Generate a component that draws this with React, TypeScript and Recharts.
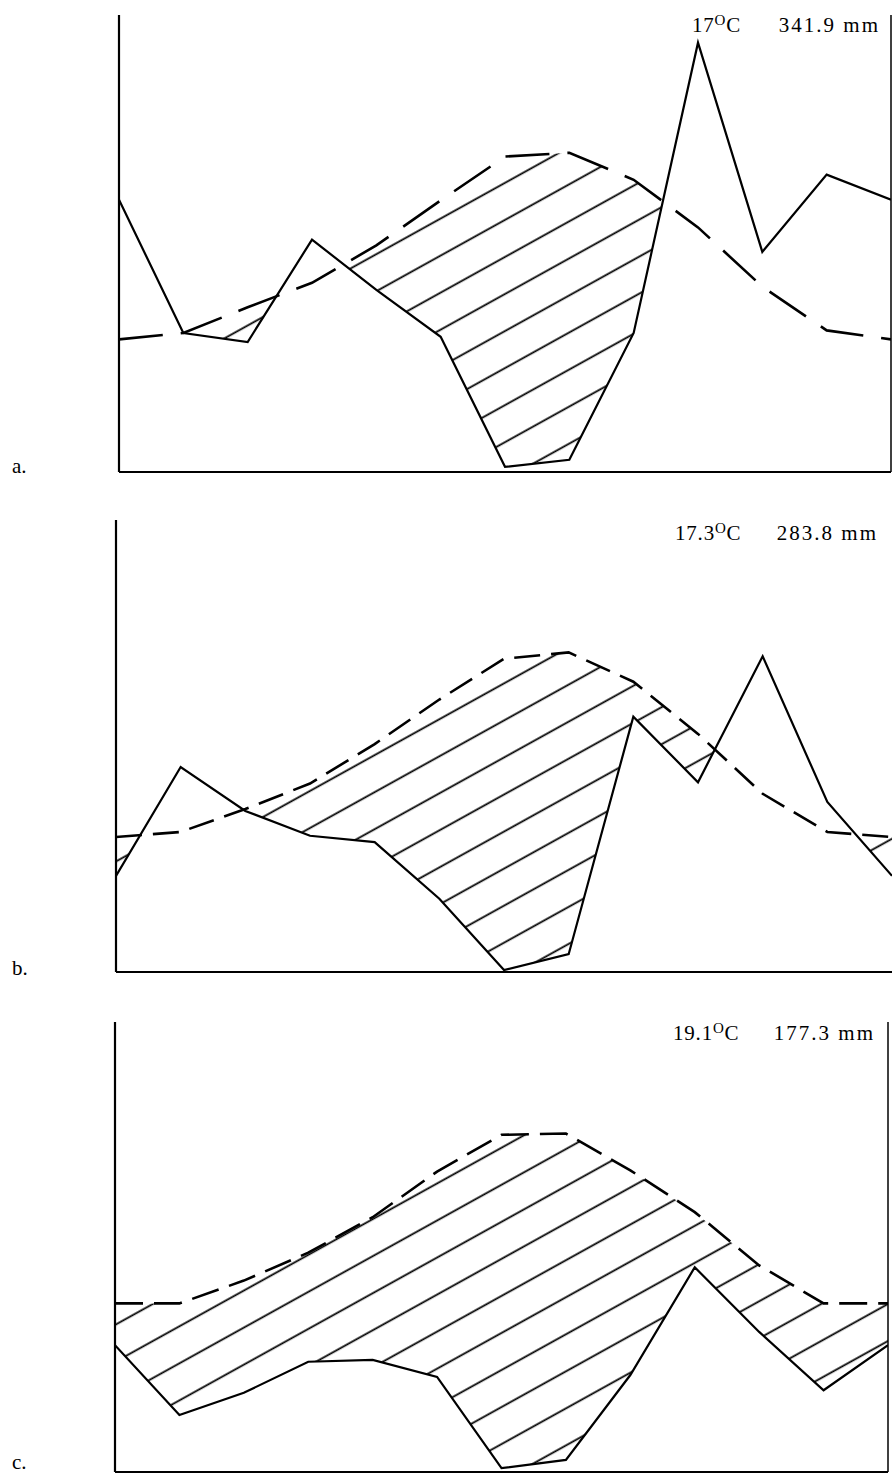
import React from "react";
import { Area, ComposedChart, Line, ReferenceLine, XAxis, YAxis } from "recharts";

const MONTHS = ["J", "F", "M", "A", "M", "J", "J", "A", "S", "O", "N", "D", "J"];

// temperature in °C, precipitation in mm (10 °C = 20 mm), last month repeats the first
const TEMP_A = [10.3, 10.8, 12.8, 14.7, 17.6, 21.1, 24.5, 24.8, 22.7, 19.0, 14.4, 11.0, 10.3];
const PREC_A = [42.3, 21.6, 20.2, 36.1, 28.3, 21.0, 0.8, 1.9, 21.6, 66.7, 34.2, 46.2, 42.3];

const TEMP_B = [10.6, 11.0, 12.8, 14.8, 17.9, 21.4, 24.6, 25.1, 22.8, 18.7, 14.0, 11.0, 10.6];
const PREC_B = [15.1, 32.2, 25.3, 21.4, 20.4, 11.5, 0.3, 2.8, 40.1, 29.8, 49.6, 26.7, 15.1];

const TEMP_C = [13.3, 13.3, 15.1, 17.3, 20.1, 23.7, 26.6, 26.7, 23.8, 20.5, 16.3, 13.3, 13.3];
const PREC_C = [20.0, 9.0, 12.5, 17.4, 17.7, 15.0, 0.6, 1.9, 15.3, 32.3, 22.1, 12.9, 20.0];

const T_MAX = 35.5;
const INK = "#000";
const SERIF = "'Liberation Serif', 'DejaVu Serif', serif";

function rows(temp: number[], prec: number[]) {
  return MONTHS.map((m, i) => ({ x: i, month: m, t: temp[i], p: prec[i] }));
}

// dry season band: between precipitation (in °C units) and temperature where temp is higher
function dryBand(temp: number[], prec: number[]) {
  const out: { x: number; band: [number, number] }[] = [];
  for (let i = 0; i < temp.length; i++) {
    const half = prec[i] / 2;
    out.push({ x: i, band: [Math.min(temp[i], half), temp[i]] });
    if (i < temp.length - 1) {
      const d1 = temp[i] - half;
      const d2 = temp[i + 1] - prec[i + 1] / 2;
      if (d1 * d2 < 0) {
        const f = d1 / (d1 - d2);
        const tv = temp[i] + f * (temp[i + 1] - temp[i]);
        out.push({ x: i + f, band: [tv, tv] });
      }
    }
  }
  return out;
}

interface PanelProps {
  id: string;
  temp: number[];
  prec: number[];
  top: number;
  height: number;
  margin: { top: number; right: number; bottom: number; left: number };
  dash: string;
  rightAxis: boolean;
  letter: string;
  letterY: number;
  tempLabel: string;
  precLabel: string;
  labelX: number;
  labelRight: number;
  labelY: number;
}

function Panel(p: PanelProps) {
  return (
    <div style={{ position: "absolute", left: 0, top: p.top, width: 892, height: p.height }}>
      <ComposedChart width={892} height={p.height} margin={p.margin}>
        <defs>
          <pattern
            id={`hatch-${p.id}`}
            patternUnits="userSpaceOnUse"
            width={10}
            height={32.4}
            patternTransform="rotate(-29)"
          >
            <line x1={0} y1={16} x2={10} y2={16} stroke={INK} strokeWidth={1.8} />
          </pattern>
        </defs>
        <XAxis type="number" dataKey="x" domain={[0, 12]} allowDataOverflow hide />
        <YAxis yAxisId="t" domain={[0, T_MAX]} allowDataOverflow hide />
        <YAxis yAxisId="p" orientation="right" domain={[0, T_MAX * 2]} allowDataOverflow hide />
        <Area
          yAxisId="t"
          data={dryBand(p.temp, p.prec)}
          dataKey="band"
          type="linear"
          stroke="none"
          fill={`url(#hatch-${p.id})`}
          fillOpacity={1}
          isAnimationActive={false}
        />
        <ReferenceLine yAxisId="t" x={0} stroke={INK} strokeWidth={2.2} />
        <ReferenceLine yAxisId="t" y={0} stroke={INK} strokeWidth={2.2} />
        {p.rightAxis && <ReferenceLine yAxisId="t" x={12} stroke={INK} strokeWidth={1.5} />}
        <Line
          yAxisId="p"
          data={rows(p.temp, p.prec)}
          dataKey="p"
          type="linear"
          stroke={INK}
          strokeWidth={2.2}
          dot={false}
          isAnimationActive={false}
        />
        <Line
          yAxisId="t"
          data={rows(p.temp, p.prec)}
          dataKey="t"
          type="linear"
          stroke={INK}
          strokeWidth={2.6}
          strokeDasharray={p.dash}
          dot={false}
          isAnimationActive={false}
        />
      </ComposedChart>
      <div
        style={{
          position: "absolute",
          left: 12,
          top: p.letterY - 17,
          fontFamily: SERIF,
          fontSize: 21,
          lineHeight: "20px",
          color: INK,
        }}
      >
        {p.letter}
      </div>
      <div
        style={{
          position: "absolute",
          left: p.labelX,
          top: p.labelY - 17,
          fontFamily: SERIF,
          fontSize: 21,
          letterSpacing: 0.8,
          color: INK,
          whiteSpace: "nowrap",
          lineHeight: "21px",
        }}
      >
        {p.tempLabel}
        <span style={{ fontSize: 15, position: "relative", top: -7 }}>O</span>C
      </div>
      <div
        style={{
          position: "absolute",
          right: 892 - p.labelRight,
          top: p.labelY - 17,
          fontFamily: SERIF,
          fontSize: 21,
          letterSpacing: 2,
          color: INK,
          whiteSpace: "nowrap",
          lineHeight: "21px",
        }}
      >
        {p.precLabel}
      </div>
    </div>
  );
}

export default function App() {
  return (
    <div
      style={{
        position: "absolute",
        left: 0,
        top: 0,
        width: 892,
        height: 1474,
        background: "#fff",
        overflow: "hidden",
      }}
    >
      <Panel
        id="a"
        temp={TEMP_A}
        prec={PREC_A}
        top={0}
        height={480}
        margin={{ top: 15, right: 1, bottom: 8, left: 119 }}
        dash="44 18"
        rightAxis
        letter="a."
        letterY={473}
        tempLabel="17"
        precLabel="341.9 mm"
        labelX={692}
        labelRight={880}
        labelY={32}
      />
      <Panel
        id="b"
        temp={TEMP_B}
        prec={PREC_B}
        top={500}
        height={480}
        margin={{ top: 20, right: 0, bottom: 8, left: 116 }}
        dash="26 11"
        rightAxis={false}
        letter="b."
        letterY={475}
        tempLabel="17.3"
        precLabel="283.8 mm"
        labelX={675}
        labelRight={878}
        labelY={40}
      />
      <Panel
        id="c"
        temp={TEMP_C}
        prec={PREC_C}
        top={1000}
        height={474}
        margin={{ top: 22, right: 4, bottom: 2, left: 115 }}
        dash="28 11"
        rightAxis
        letter="c."
        letterY={469}
        tempLabel="19.1"
        precLabel="177.3 mm"
        labelX={673}
        labelRight={875}
        labelY={40}
      />
    </div>
  );
}
